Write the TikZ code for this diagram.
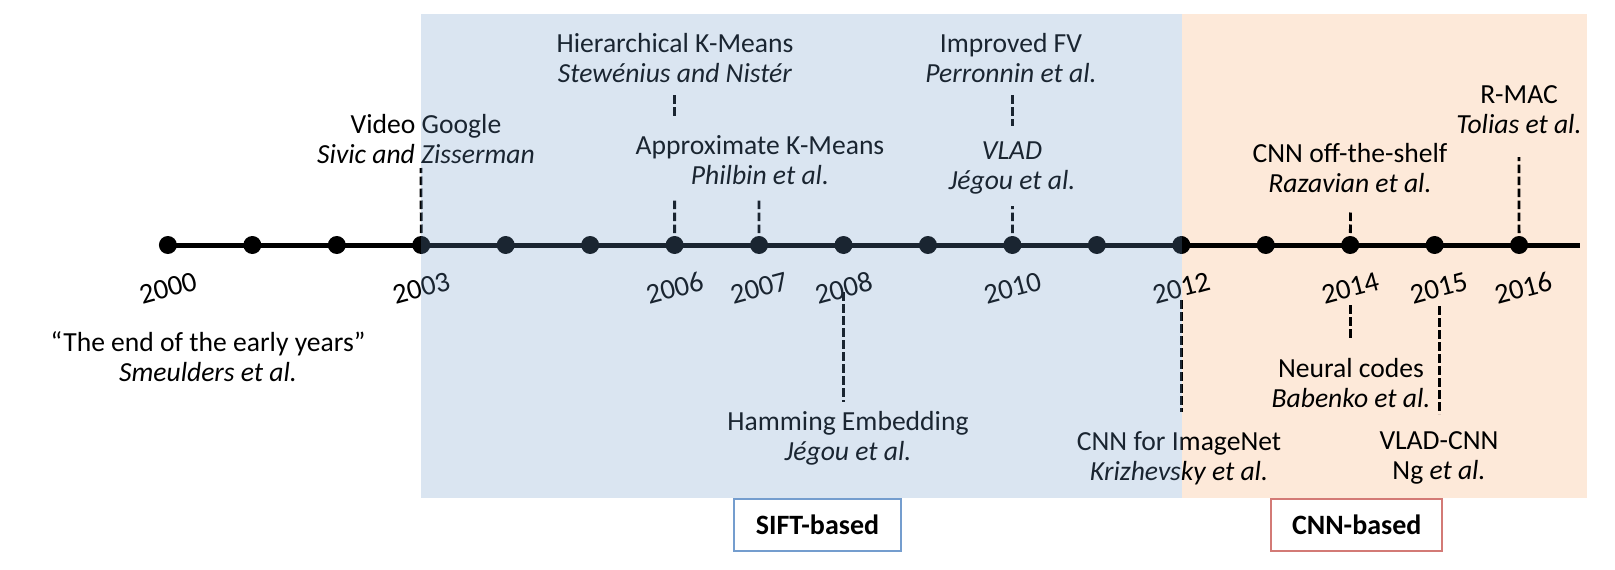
\documentclass[tikz,border=0pt]{standalone}
\usepackage{fontspec}
\setmainfont{Carlito}

\definecolor{siftblue}{RGB}{107,151,199}
\definecolor{cnnorange}{RGB}{253,233,217}
\definecolor{siftedge}{RGB}{116,157,206}
\definecolor{cnnedge}{RGB}{211,122,118}

\begin{document}
\begin{tikzpicture}[x=1pt, y=-1pt,
    yeardot/.style={circle, fill=black, minimum size=18pt, inner sep=0pt},
    yearlbl/.style={font=\fontsize{28.6}{30}\selectfont, rotate=15, inner sep=0pt},
    event/.style={align=center, font=\fontsize{27.6}{30}\selectfont, inner sep=0pt},
    evline/.style={line width=2.8pt, dash pattern=on 8.5pt off 3.5pt},
    tline/.style={line width=5pt},
    era/.style={draw, line width=2pt, fill=white, minimum height=51.7pt, inner sep=0pt, font=\bfseries\fontsize{28}{30}\selectfont}
]
    \useasboundingbox (0,0) rectangle (1615,570);
    \fill[cnnorange] (1181.7,14.4) rectangle (1586.7,498.3);

    % timeline
    \foreach \i in {0,...,16}
        \node[yeardot] (d\i) at ({167.9+84.45*\i},245) {};
    \coordinate (tend) at (1580,245);
    \draw[tline] (d0.center) -- (tend);

    \foreach \i/\yr in {0/2000,3/2003,6/2006,7/2007,8/2008,10/2010,12/2012,14/2014,15/2015,16/2016}
        \node[yearlbl] (l\yr) at ({167.9+84.45*\i+(\i>14)*4},288) {\yr};

    % events
    \node[event] (early) at (208,357) {“The end of the early years”\\\textit{Smeulders et al.}};
    \node[event] (vgoogle) at (426,139) {Video Google\\\textit{Sivic and Zisserman}};
    \node[event] (hkm) at (675,58) {Hierarchical K-Means\\\textit{Stewénius and Nistér}};
    \node[event] (akm) at (760,160) {Approximate K-Means\\\textit{Philbin et al.}};
    \node[event] (ifv) at (1011,58) {Improved FV\\\textit{Perronnin et al.}};
    \node[event] (vlad) at (1012,168) {\textit{VLAD}\\\textit{Jégou et al.}};
    \node[event] (hamming) at (848,438) {Hamming Embedding\\\textit{Jégou et al.}};
    \node[event] (imagenet) at (1179,458) {CNN for ImageNet\\\textit{Krizhevsky et al.}};
    \node[event] (offshelf) at (1350,168) {CNN off-the-shelf\\\textit{Razavian et al.}};
    \node[event] (rmac) at (1519,110) {R-MAC\\\textit{Tolias et al.}};
    \node[event] (ncodes) at (1351,383) {Neural codes\\\textit{Babenko et al.}};
    \node[event] (vladcnn) at (1439,458) {VLAD-CNN\\Ng \textit{et al.}};

    % dashed markers
    \coordinate (vg-e) at (421,168);
    \coordinate (hk-a) at (674.6,95);
    \coordinate (hk-b) at (674.6,118);
    \coordinate (ak-a) at (674.6,199);
    \coordinate (ak-b) at (759,199);
    \coordinate (fv-a) at (1012.4,95);
    \coordinate (fv-b) at (1012.4,126);
    \coordinate (vl-e) at (1012.4,206);
    \coordinate (hm-a) at (843.6,292);
    \coordinate (hm-b) at (843.6,402);
    \coordinate (in-a) at (1181.7,300);
    \coordinate (in-b) at (1181.7,412);
    \coordinate (os-e) at (1350.6,211);
    \coordinate (nc-a) at (1350.6,305);
    \coordinate (nc-b) at (1350.6,340);
    \coordinate (vc-a) at (1439.3,306);
    \coordinate (vc-b) at (1439.3,414);
    \coordinate (rm-e) at (1519,157);

    \draw[evline] (d3.center) -- (vg-e);
    \draw[evline] (hk-a) -- (hk-b);
    \draw[evline] (d6.center) -- (ak-a);
    \draw[evline] (d7.center) -- (ak-b);
    \draw[evline] (fv-a) -- (fv-b);
    \draw[evline] (d10.center) -- (vl-e);
    \draw[evline] (hm-a) -- (hm-b);
    \draw[evline] (in-a) -- (in-b);
    \draw[evline] (d14.center) -- (os-e);
    \draw[evline] (nc-a) -- (nc-b);
    \draw[evline] (vc-a) -- (vc-b);
    \draw[evline] (d16.center) -- (rm-e);

    % eras
    \fill[siftblue, opacity=0.25] (421,14.4) rectangle (1181.7,498.3);
    \node[era, draw=siftedge, minimum width=166.4pt] (sift) at (817.5,525) {SIFT-based};
    \node[era, draw=cnnedge, minimum width=171.3pt] (cnn) at (1356.7,525) {CNN-based};
\end{tikzpicture}
\end{document}
